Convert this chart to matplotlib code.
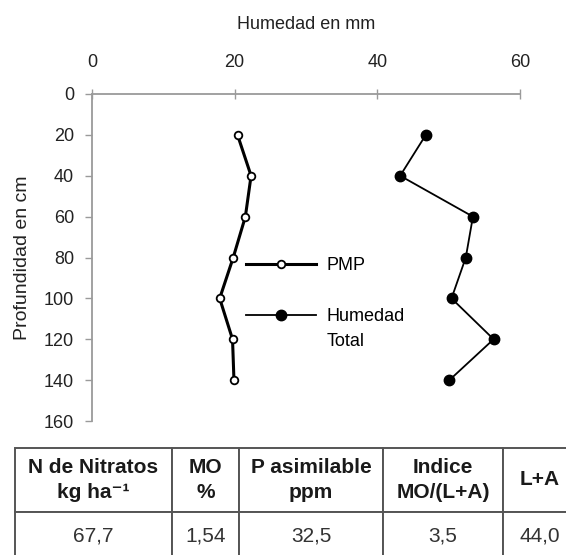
import matplotlib
matplotlib.use('Agg')
import matplotlib.pyplot as plt
from matplotlib.lines import Line2D

plt.rcParams['font.family'] = ['Liberation Sans', 'DejaVu Sans']

## Soil profile: depth (cm) vs moisture (mm)
profundidad = [20, 40, 60, 80, 100, 120, 140]
pmp = [20.4, 22.3, 21.5, 19.8, 17.9, 19.7, 19.9]
humedad_total = [46.8, 43.2, 53.4, 52.4, 50.4, 56.3, 50.1]

x_ticks = [0, 20, 40, 60]
y_ticks = [0, 20, 40, 60, 80, 100, 120, 140, 160]

## Table under the chart
col_labels = ['N de Nitratos\nkg ha⁻¹', 'MO\n%', 'P asimilable\nppm', 'Indice\nMO/(L+A)', 'L+A']
row_values = ['67,7', '1,54', '32,5', '3,5', '44,0']

W, H = 566.0, 555.0
fig = plt.figure(figsize=(W / 100, H / 100), dpi=100)

#### chart ####
ax = fig.add_axes([92 / W, 1 - 421 / H, 428 / W, 327 / H])

ax.plot(pmp, profundidad, color='black', lw=2.2, marker='o', ms=5.5,
        mfc='white', mec='black', mew=1.3, label='PMP')
ax.plot(humedad_total, profundidad, color='black', lw=1.3, marker='o', ms=7.5,
        mfc='black', mec='black', label='Humedad')

ax.set_xlim(0, 60)
ax.set_ylim(160, 0)
ax.set_xticks(x_ticks)
ax.set_yticks(y_ticks)

ax.xaxis.tick_top()
ax.xaxis.set_label_position('top')
ax.set_xlabel('Humedad en mm', fontsize=13, color='#222222')
ax.xaxis.set_label_coords(0.5, 1.20)
ax.set_ylabel('Profundidad en cm', fontsize=14, color='#222222')
ax.yaxis.set_label_coords(-0.143, 0.5)

for side in ['right', 'bottom']:
    ax.spines[side].set_visible(False)
for side in ['top', 'left']:
    ax.spines[side].set_color('#9a9a9a')
    ax.spines[side].set_linewidth(1.3)

ax.tick_params(axis='x', direction='inout', length=7, width=1, color='#9a9a9a',
               labelsize=13, labelcolor='#222222', pad=13)
ax.tick_params(axis='y', direction='out', length=5, width=1, color='#9a9a9a',
               labelsize=13, labelcolor='#222222', pad=8)

## legend: blank rows keep "Total" under "Humedad"
pmp_line, hum_line = ax.get_lines()
blank = Line2D([], [], linestyle='none', marker='none')
ax.legend([pmp_line, blank, hum_line, blank], ['PMP', ' ', 'Humedad', 'Total'],
          loc='upper left', bbox_to_anchor=(0.36, 0.50), frameon=False,
          fontsize=13, handlelength=3.9, handletextpad=0.55, labelspacing=0.46,
          borderpad=0, borderaxespad=0, numpoints=1)

#### table ####
tax = fig.add_axes([15 / W, 1 - 561 / H, 562 / W, 113 / H])
tax.axis('off')
col_widths = [157, 67, 144, 120, 74]
table = tax.table(cellText=[row_values], colLabels=col_labels, cellLoc='center',
                  colWidths=[w / 562.0 for w in col_widths], bbox=[0, 0, 1, 1])
table.auto_set_font_size(False)
table.set_fontsize(15)
for (r, c), cell in table.get_celld().items():
    cell.set_edgecolor('#555555')
    cell.set_linewidth(1.4)
    if r == 0:
        cell.set_height(64)
        cell.get_text().set_fontweight('bold')
        cell.get_text().set_color('#1a1a1a')
        cell.get_text().set_linespacing(1.35)
    else:
        cell.set_height(49)
        cell.get_text().set_color('#333333')

fig.savefig('out.png', dpi=100)
